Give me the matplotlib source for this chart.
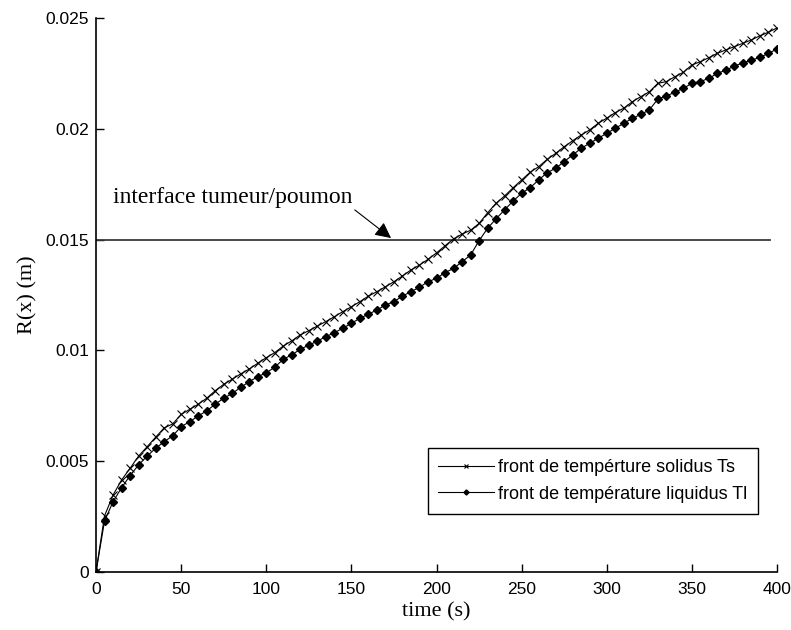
import matplotlib
matplotlib.use("Agg")
import matplotlib.pyplot as plt

# sampling grid (s) and the two fronts R(x) (m)
time_s = list(range(0, 405, 5))
solidus = [0, 0.00253, 0.00347, 0.00415, 0.00468, 0.00523, 0.00565, 0.00608, 0.00650, 0.00668,
           0.00711, 0.00734, 0.00757, 0.00784, 0.00818, 0.00847, 0.00870, 0.00894, 0.00916, 0.00942,
           0.00967, 0.00990, 0.01020, 0.01043, 0.01070, 0.01089, 0.01110, 0.01130, 0.01152, 0.01175,
           0.01197, 0.01220, 0.01245, 0.01265, 0.01287, 0.01310, 0.01336, 0.01363, 0.01385, 0.01411,
           0.01440, 0.01472, 0.01503, 0.01525, 0.01542, 0.01573, 0.01621, 0.01664, 0.01697, 0.01734,
           0.01769, 0.01804, 0.01829, 0.01862, 0.01889, 0.01919, 0.01946, 0.01972, 0.01995, 0.02025,
           0.02048, 0.02073, 0.02093, 0.02122, 0.02145, 0.02167, 0.02205, 0.02213, 0.02235, 0.02255,
           0.02288, 0.02303, 0.02321, 0.02341, 0.02356, 0.02371, 0.02386, 0.02401, 0.02420, 0.02436,
           0.02455]
liquidus = [0, 0.00230, 0.00317, 0.00380, 0.00435, 0.00483, 0.00523, 0.00558, 0.00588, 0.00614,
            0.00656, 0.00678, 0.00704, 0.00727, 0.00757, 0.00784, 0.00806, 0.00833, 0.00859, 0.00881,
            0.00899, 0.00924, 0.00960, 0.00980, 0.01005, 0.01024, 0.01042, 0.01062, 0.01080, 0.01100,
            0.01122, 0.01145, 0.01164, 0.01182, 0.01205, 0.01220, 0.01245, 0.01265, 0.01285, 0.01310,
            0.01325, 0.01351, 0.01370, 0.01400, 0.01430, 0.01495, 0.01551, 0.01594, 0.01634, 0.01674,
            0.01709, 0.01734, 0.01769, 0.01802, 0.01822, 0.01852, 0.01882, 0.01912, 0.01935, 0.01957,
            0.01980, 0.02002, 0.02025, 0.02047, 0.02065, 0.02085, 0.02134, 0.02148, 0.02165, 0.02183,
            0.02205, 0.02213, 0.02228, 0.02250, 0.02265, 0.02283, 0.02298, 0.02310, 0.02322, 0.02341,
            0.02360]
interface_r = 0.015
interface_span = [0, 396]
xticks = [0, 50, 100, 150, 200, 250, 300, 350, 400]
yticks = [0, 0.005, 0.01, 0.015, 0.02, 0.025]
ytick_labels = ["0", "0.005", "0.01", "0.015", "0.02", "0.025"]

sans = "Liberation Sans"
serif = "Liberation Serif"

fig = plt.figure(figsize=(7.91, 6.30), dpi=100)
ax = fig.add_axes([96 / 791, 58 / 630, 681 / 791, 554 / 630])

ax.plot(interface_span, [interface_r, interface_r], color="#3a3a3a", lw=1.3)
ax.plot(time_s, solidus, color="black", lw=0.8, marker="x", ms=5.5, mew=0.8,
        label="front de tempérture solidus Ts")
ax.plot(time_s, liquidus, color="black", lw=0.8, marker="D", ms=4.3,
        label="front de température liquidus Tl")

# label + arrow pointing at the tumour/lung interface
ax.text(10, 0.01692, "interface tumeur/poumon", fontsize=17, family=serif,
        ha="left", va="center")
ax.annotate("", xy=(173.3, 0.01507), xytext=(152, 0.01634),
            arrowprops=dict(arrowstyle="-|>", color="black", lw=0.8, mutation_scale=24,
                            shrinkA=0, shrinkB=0))

ax.set_xlim(0, 400)
ax.set_ylim(0, 0.025)
ax.set_xticks(xticks)
ax.set_xticklabels([str(v) for v in xticks], family=sans, fontsize=12.5)
ax.set_yticks(yticks)
ax.set_yticklabels(ytick_labels, family=sans, fontsize=12.5)
ax.tick_params(direction="in", length=6, width=1)
ax.tick_params(axis="x", pad=7)
ax.tick_params(axis="y", pad=5)
for side in ["top", "right"]:
    ax.spines[side].set_visible(False)
for side in ["left", "bottom"]:
    ax.spines[side].set_linewidth(1.2)

ax.set_xlabel("time (s)", family=serif, fontsize=16, labelpad=4)
ax.set_ylabel("R(x) (m)", family=serif, fontsize=16, labelpad=6)

leg = ax.legend(loc="upper right", bbox_to_anchor=(758 / 791, (630 - 448) / 630),
                bbox_transform=fig.transFigure, prop={"family": sans, "size": 13},
                fancybox=False, edgecolor="black", framealpha=1, handlelength=3.1,
                handletextpad=0.2, borderpad=0.6, labelspacing=0.55, borderaxespad=0,
                markerscale=0.6)
leg.get_frame().set_linewidth(1.0)

fig.savefig("out.png", dpi=100)
